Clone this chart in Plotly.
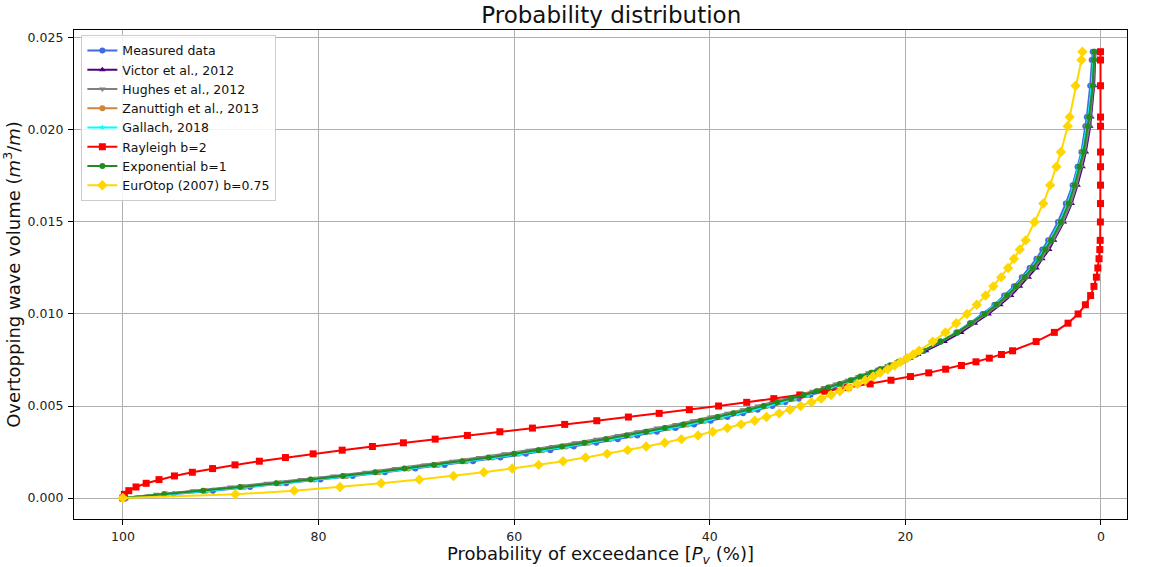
import plotly.graph_objects as go

# Overtopping wave volume levels (m3/m), shared by all series
volume = [0, 0.0002, 0.0004, 0.0006, 0.0008, 0.0010, 0.0012, 0.0014, 0.0016, 0.0018,
          0.0020, 0.0022, 0.0024, 0.0026, 0.0028, 0.0030, 0.0032, 0.0034, 0.0036, 0.0038,
          0.0040, 0.0042, 0.0044, 0.0046, 0.0048, 0.0050, 0.0052, 0.0054, 0.0056, 0.0058,
          0.0060, 0.0062, 0.0064, 0.0066, 0.0068, 0.0070, 0.0072, 0.0074, 0.0076, 0.0078,
          0.0080, 0.0085, 0.0090, 0.0095, 0.0100, 0.0105, 0.0110, 0.0115, 0.0120, 0.0125,
          0.0130, 0.0135, 0.0140, 0.0150, 0.0160, 0.0170, 0.0180, 0.0188, 0.0202, 0.0207,
          0.0224, 0.0238, 0.02425]

# Probability of exceedance (%) for each series
p_measured = [99.7, 94.8, 90.8, 87.0, 83.3, 79.8, 76.5, 73.2, 70.1, 67.1,
              64.2, 61.4, 58.8, 56.3, 53.9, 51.6, 49.4, 47.4, 45.4, 43.5,
              41.6, 39.9, 38.2, 36.6, 35.1, 33.6, 32.3, 30.9, 29.7, 28.4,
              27.3, 26.2, 25.1, 24.1, 23.1, 22.2, 21.3, 20.4, 19.7, 18.9,
              18.1, 16.4, 14.8, 13.4, 12.1, 10.9, 9.9, 8.9, 8.1, 7.3,
              6.6, 6.0, 5.4, 4.4, 3.6, 2.9, 2.4, 2.0, 1.6, 1.45,
              1.1, 0.95, 0.85]
p_victor = [100, 95.9, 91.9, 88.1, 84.4, 80.9, 77.6, 74.3, 71.3, 68.3,
            65.4, 62.7, 60.1, 57.6, 55.2, 52.9, 50.7, 48.6, 46.6, 44.6,
            42.7, 40.9, 39.2, 37.5, 35.9, 34.4, 32.9, 31.5, 30.2, 28.9,
            27.7, 26.5, 25.3, 24.3, 23.2, 22.3, 21.3, 20.4, 19.5, 18.7,
            17.9, 16.0, 14.3, 12.9, 11.5, 10.3, 9.2, 8.3, 7.4, 6.6,
            6.0, 5.3, 4.8, 3.8, 3.0, 2.4, 1.9, 1.55, 1.1, 1.0,
            0.7, 0.6, 0.55]
p_hughes = [100, 96.6, 92.8, 89.0, 85.3, 81.8, 78.5, 75.2, 72.2, 69.2,
            66.3, 63.6, 61.0, 58.5, 56.1, 53.8, 51.6, 49.4, 47.4, 45.4,
            43.5, 41.7, 39.9, 38.2, 36.6, 35.1, 33.6, 32.2, 30.8, 29.5,
            28.3, 27.1, 25.9, 24.8, 23.8, 22.8, 21.8, 20.8, 19.9, 19.1,
            18.2, 16.3, 14.6, 13.1, 11.7, 10.5, 9.4, 8.5, 7.6, 6.8,
            6.1, 5.5, 4.9, 3.9, 3.1, 2.5, 2.0, 1.65, 1.2, 1.08,
            0.78, 0.65, 0.6]
p_zanuttigh = [100, 95.6, 91.5, 87.6, 83.9, 80.4, 77.1, 73.8, 70.8, 67.8,
               64.9, 62.2, 59.6, 57.1, 54.7, 52.4, 50.2, 48.1, 46.1, 44.2,
               42.3, 40.5, 38.8, 37.2, 35.7, 34.2, 32.8, 31.4, 30.1, 28.9,
               27.7, 26.5, 25.4, 24.4, 23.4, 22.5, 21.5, 20.6, 19.8, 19.0,
               18.2, 16.4, 14.7, 13.3, 11.9, 10.7, 9.7, 8.7, 7.9, 7.1,
               6.4, 5.7, 5.2, 4.2, 3.4, 2.7, 2.2, 1.85, 1.4, 1.25,
               0.9, 0.75, 0.7]
p_gallach = [100, 95.4, 91.3, 87.4, 83.7, 80.2, 76.9, 73.6, 70.6, 67.6,
             64.7, 62.0, 59.4, 56.9, 54.5, 52.2, 50.0, 47.9, 45.9, 44.0,
             42.1, 40.4, 38.7, 37.1, 35.5, 34.0, 32.6, 31.3, 30.0, 28.8,
             27.6, 26.5, 25.4, 24.4, 23.4, 22.5, 21.5, 20.7, 19.8, 19.0,
             18.2, 16.4, 14.8, 13.3, 12.0, 10.8, 9.7, 8.8, 7.9, 7.1,
             6.4, 5.8, 5.2, 4.2, 3.4, 2.8, 2.3, 1.9, 1.45, 1.3,
             0.95, 0.78, 0.72]
p_rayleigh = [100, 99.85, 99.4, 98.66, 97.62, 96.31, 94.73, 92.9, 90.83, 88.54,
              86.05, 83.38, 80.55, 77.58, 74.49, 71.32, 68.07, 64.78, 61.46, 58.13,
              54.83, 51.55, 48.32, 45.17, 42.09, 39.1, 36.22, 33.45, 30.79, 28.26,
              25.87, 23.6, 21.47, 19.48, 17.61, 15.88, 14.27, 12.78, 11.42, 10.17,
              9.04, 6.63, 4.77, 3.37, 2.34, 1.59, 1.06, 0.72, 0.47, 0.32,
              0.2, 0.12, 0.08, 0.06, 0.05, 0.05, 0.05, 0.05, 0.05, 0.05,
              0.05, 0.05, 0.05]
p_exponential = [100, 95.8, 91.8, 88.0, 84.3, 80.8, 77.5, 74.2, 71.2, 68.2,
                 65.3, 62.6, 60.0, 57.5, 55.1, 52.8, 50.6, 48.5, 46.5, 44.6,
                 42.7, 40.9, 39.2, 37.6, 36.0, 34.5, 33.1, 31.7, 30.4, 29.1,
                 27.9, 26.7, 25.6, 24.6, 23.5, 22.6, 21.6, 20.7, 19.9, 19.0,
                 18.2, 16.4, 14.7, 13.3, 11.9, 10.7, 9.6, 8.7, 7.8, 7.0,
                 6.3, 5.7, 5.1, 4.1, 3.3, 2.7, 2.2, 1.8, 1.36, 1.22,
                 0.85, 0.72, 0.68]
p_eurotop = [100, 88.5, 82.5, 77.8, 73.6, 69.7, 66.2, 63.1, 60.2, 57.5,
             55.0, 52.7, 50.5, 48.4, 46.5, 44.6, 42.9, 41.2, 39.7, 38.2,
             36.8, 35.4, 34.2, 32.9, 31.8, 30.7, 29.6, 28.6, 27.6, 26.7,
             25.8, 24.9, 24.1, 23.3, 22.6, 21.8, 21.1, 20.5, 19.8, 19.2,
             18.6, 17.2, 15.9, 14.8, 13.7, 12.7, 11.8, 11.0, 10.2, 9.5,
             8.9, 8.3, 7.7, 6.8, 5.9, 5.2, 4.55, 4.1, 3.4, 3.2,
             2.6, 2.0, 1.9]

series = [
    ("Measured data", p_measured, "#4169E1", "circle", 6),
    ("Victor et al., 2012", p_victor, "#4B0082", "triangle-up", 6),
    ("Hughes et al., 2012", p_hughes, "#808080", "triangle-down", 6),
    ("Zanuttigh et al., 2013", p_zanuttigh, "#CD853F", "circle", 6),
    ("Gallach, 2018", p_gallach, "#00FFFF", "star", 5),
    ("Rayleigh b=2", p_rayleigh, "#FF0000", "square", 7),
    ("Exponential b=1", p_exponential, "#228B22", "circle", 6),
    ("EurOtop (2007) b=0.75", p_eurotop, "#FFD700", "diamond", 8),
]

fig = go.Figure()
for name, xs, color, sym, size in series:
    fig.add_trace(go.Scatter(
        x=xs, y=volume, mode="lines+markers", name=name,
        line=dict(color=color, width=2),
        marker=dict(color=color, symbol=sym, size=size, line=dict(width=0)),
    ))

font_family = "DejaVu Sans"
axis_common = dict(
    showgrid=True, gridcolor="#b0b0b0", gridwidth=1,
    showline=True, linecolor="black", linewidth=1.2, mirror=True,
    ticks="outside", ticklen=5, tickcolor="black",
    tickfont=dict(family=font_family, size=12.5, color="#222"),
    zeroline=False, automargin=False,
)

fig.update_layout(
    width=1149, height=567,
    margin=dict(l=74, r=22, t=30, b=48),
    paper_bgcolor="white", plot_bgcolor="white",
    font=dict(family=font_family, color="#111"),
    title=dict(text="Probability distribution", x=0.532, xanchor="center",
               y=1 - 15 / 567, yanchor="middle", yref="container",
               font=dict(family=font_family, size=23, color="#111")),
    xaxis=dict(range=[105.0, -2.66], tickmode="linear", tick0=0, dtick=20,
               ticklabelstandoff=1,
               title=dict(text="Probability of exceedance [<i>P</i><sub><i>v</i></sub> (%)]",
                          font=dict(family=font_family, size=18), standoff=4),
               **axis_common),
    yaxis=dict(range=[-0.00114, 0.02543], tickmode="linear", tick0=0, dtick=0.005,
               tickformat=".3f", ticklabelstandoff=2,
               title=dict(text="Overtopping wave volume (<i>m</i><sup>3</sup>/<i>m</i>)",
                          font=dict(family=font_family, size=18), standoff=8),
               **axis_common),
    legend=dict(x=0.007, y=0.99, xanchor="left", yanchor="top",
                bgcolor="rgba(255,255,255,0.85)", bordercolor="#cccccc", borderwidth=1,
                font=dict(family=font_family, size=12.5, color="#111"),
                tracegroupgap=0, itemwidth=30),
)

fig.write_html("out.html")
